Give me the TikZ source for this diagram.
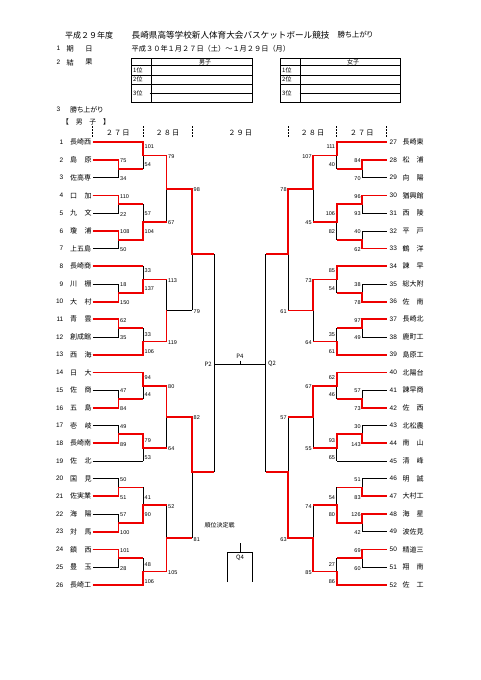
\documentclass[tikz,border=0pt]{standalone}
\usepackage{fontspec}
\setmainfont{Noto Sans CJK JP}
\newfontfamily\pfont{Noto Sans CJK JP}[RawFeature=+palt]
\newfontfamily\numfont{Liberation Sans}
\definecolor{mred}{RGB}{238,0,0}
\tikzset{
  bl/.style={black, line width=0.6pt},
  rd/.style={mred, line width=1.8pt, line join=miter, line cap=butt},
  tb/.style={black, line width=0.7pt},
  sc/.style={font=\numfont\fontsize{5.5}{6}\selectfont, inner sep=0pt},
  tnum/.style={font=\numfont\fontsize{6.5}{7}\selectfont, inner sep=0pt},
  tname/.style={font=\fontsize{7}{8}\selectfont, inner sep=0pt, anchor=west},
  hd/.style={font=\fontsize{7.2}{8}\selectfont, inner sep=0pt},
  sm/.style={font=\fontsize{6}{7}\selectfont, inner sep=0pt},
}
\newcommand\brk[6]{%
 \foreach \r in {1,8,13,14,19,26} \draw[bl] (#1,{142.3+17.7*(\r-1)}) -- (#3,{142.3+17.7*(\r-1)});
 \foreach \r in {2,4,6,9,11,15,17,20,22,24} {
   \draw[bl] (#1,{142.3+17.7*(\r-1)}) -- (#2,{142.3+17.7*(\r-1)}) -- (#2,{142.3+17.7*\r}) -- (#1,{142.3+17.7*\r});
   \draw[bl] (#2,{142.3+17.7*(\r-1)+8.85}) -- (#3,{142.3+17.7*(\r-1)+8.85});
 }
 \draw[bl] (#3,142.3) -- (#3,168.85);
 \draw[bl] (#3,204.25) -- (#3,239.65);
 \draw[bl] (#3,266.2) -- (#3,292.75);
 \draw[bl] (#3,328.15) -- (#3,354.7);
 \draw[bl] (#3,372.4) -- (#3,398.95);
 \draw[bl] (#3,434.35) -- (#3,460.9);
 \draw[bl] (#3,487.45) -- (#3,522.85);
 \draw[bl] (#3,558.25) -- (#3,584.8);
 \foreach \v in {155.58,221.95,279.48,341.43,385.68,447.63,505.15,571.53} \draw[bl] (#3,\v) -- (#4,\v);
 \draw[bl] (#4,155.58) -- (#4,221.95);
 \draw[bl] (#4,279.48) -- (#4,341.43);
 \draw[bl] (#4,385.68) -- (#4,447.63);
 \draw[bl] (#4,505.15) -- (#4,571.53);
 \foreach \v in {188.76,310.45,416.65,538.34} \draw[bl] (#4,\v) -- (#5,\v);
 \draw[bl] (#5,188.76) -- (#5,310.45);
 \draw[bl] (#5,416.65) -- (#5,538.34);
 \draw[bl] (#5,254) -- (#6,254);
 \draw[bl] (#5,472) -- (#6,472);
 \draw[bl] (#6,254) -- (#6,472);
}
\begin{document}
\begin{tikzpicture}[x=1pt,y=-1pt]
\fill[white] (0,0) rectangle (481,680);
\useasboundingbox (0,0) rectangle (481,680);

% ---------- header ----------
\node[font=\fontsize{8}{9}\selectfont, inner sep=0pt, anchor=west] (yr) at (65,35) {平成２９年度};
\node[font=\fontsize{8.6}{9}\selectfont, inner sep=0pt, anchor=west] (ttl) at (131.5,35) {長崎県高等学校新人体育大会バスケットボール競技};
\node[font=\pfont\fontsize{7.5}{9}\selectfont, inner sep=0pt, anchor=west] (ttl2) at (337.5,35) {勝ち上がり};
\node[tnum] (h1) at (58.5,48.5) {1};
\node[hd] (h1a) at (70.3,48.5) {期};
\node[hd] (h1b) at (89,48.5) {日};
\node[hd, anchor=west] (date) at (131.5,48.5) {平成３０年１月２７日（土）～１月２９日（月）};
\node[tnum] (h2) at (58.5,62.3) {2};
\node[hd] (h2a) at (70.3,62.3) {結};
\node[hd] (h2b) at (89,62.3) {果};
\node[tnum] (h3) at (58.5,109.5) {3};
\node[font=\pfont\fontsize{7}{8}\selectfont, inner sep=0pt, anchor=west] (h3a) at (70,109.5) {勝ち上がり};
\node[font=\fontsize{6.8}{8}\selectfont, inner sep=0pt, anchor=west] (boys) at (62,121.5) {【　男　子　】};

% ---------- result tables ----------
\draw[tb] (131,58.5) rectangle (252.5,102);
\draw[tb] (151,58.5) -- (151,102);
\draw[tb] (131,65.5) -- (252.5,65.5);
\draw[tb] (131,75) -- (252.5,75);
\draw[tb] (131,84) -- (252.5,84);
\draw[tb] (149.5,93.5) -- (252.5,93.5);
\node[sm] (tbm) at (205,62) {男子};
\node[sm, anchor=west] (tb1) at (133,70.3) {1位};
\node[sm, anchor=west] (tb2) at (133,79.5) {2位};
\node[sm, anchor=west] (tb3) at (133,93) {3位};
\draw[tb] (280,58.5) rectangle (400,102);
\draw[tb] (300.7,58.5) -- (300.7,102);
\draw[tb] (280,65.5) -- (400,65.5);
\draw[tb] (280,75) -- (400,75);
\draw[tb] (280,84) -- (400,84);
\draw[tb] (299.5,93.5) -- (400,93.5);
\node[sm] (tgf) at (353,62) {女子};
\node[sm, anchor=west] (tg1) at (282,70.3) {1位};
\node[sm, anchor=west] (tg2) at (282,79.5) {2位};
\node[sm, anchor=west] (tg3) at (282,93) {3位};

% ---------- day headers ----------
\foreach \x in {92.5,143,192,288.3,336.7,386.7} \draw[bl, dash pattern=on 1.6pt off 1.4pt] (\x,126) -- (\x,137.5);
\node[hd] (d1) at (117.7,132.5) {２\hspace{1pt}７\hspace{1pt}日};
\node[hd] (d2) at (167.5,132.5) {２\hspace{1pt}８\hspace{1pt}日};
\node[hd] (d3) at (240.2,132.5) {２\hspace{1pt}９\hspace{1pt}日};
\node[hd] (d4) at (312.5,132.5) {２\hspace{1pt}８\hspace{1pt}日};
\node[hd] (d5) at (361.7,132.5) {２\hspace{1pt}７\hspace{1pt}日};

% ---------- bracket skeleton ----------
\brk{92.5}{118.5}{143}{166.5}{192}{214.3}
\brk{386.7}{362.3}{336.7}{313.3}{288.3}{265.7}
\draw[bl] (214.3,364) -- (265.7,364);
\draw[bl] (240,360.5) -- (240,364);
\node[sm] (p4) at (240,356) {P4};
\node[sm, anchor=east] (p2) at (212,364) {P2};
\node[sm, anchor=west] (q2) at (268,364) {Q2};
\node[sm] (jk) at (219.5,525.5) {順位決定戦};
\draw[bl] (227.3,582) -- (227.3,552.7) -- (252.3,552.7) -- (252.3,582);
\draw[bl] (240,543.3) -- (240,552.7);
\node[sm] (q4) at (240,557.5) {Q4};

% ---------- red winner paths, left ----------
\draw[rd] (92.5,142.3) -- (143,142.3) -- (143,155.58) -- (166.5,155.58) -- (166.5,188.76) -- (192,188.76) -- (192,254) -- (214.3,254);
\draw[rd] (92.5,160) -- (118.5,160) -- (118.5,168.85) -- (143,168.85);
\draw[rd] (92.5,195.4) -- (118.5,195.4) -- (118.5,204.25) -- (143,204.25);
\draw[rd] (92.5,230.8) -- (118.5,230.8) -- (118.5,239.65) -- (143,239.65) -- (143,221.95) -- (166.5,221.95);
\draw[rd] (92.5,266.2) -- (143,266.2);
\draw[rd] (92.5,301.6) -- (118.5,301.6) -- (118.5,292.75) -- (143,292.75) -- (143,279.48) -- (166.5,279.48);
\draw[rd] (92.5,319.3) -- (118.5,319.3) -- (118.5,328.15) -- (143,328.15);
\draw[rd] (92.5,354.7) -- (143,354.7) -- (143,341.43) -- (166.5,341.43) -- (166.5,310.45);
\draw[rd] (92.5,372.4) -- (143,372.4) -- (143,385.68) -- (166.5,385.68) -- (166.5,416.65) -- (192,416.65) -- (192,472) -- (214.3,472);
\draw[rd] (92.5,407.8) -- (118.5,407.8) -- (118.5,398.95) -- (143,398.95);
\draw[rd] (92.5,443.2) -- (118.5,443.2) -- (118.5,434.35) -- (143,434.35) -- (143,447.63) -- (166.5,447.63);
\draw[rd] (92.5,496.3) -- (118.5,496.3) -- (118.5,487.45) -- (143,487.45);
\draw[rd] (92.5,531.7) -- (118.5,531.7) -- (118.5,522.85) -- (143,522.85) -- (143,505.15) -- (166.5,505.15);
\draw[rd] (92.5,549.4) -- (118.5,549.4) -- (118.5,558.25) -- (143,558.25);
\draw[rd] (92.5,584.8) -- (143,584.8) -- (143,571.53) -- (166.5,571.53) -- (166.5,538.34) -- (192,538.34);

% ---------- red winner paths, right ----------
\draw[rd] (386.7,142.3) -- (336.7,142.3) -- (336.7,155.58) -- (313.3,155.58) -- (313.3,188.76) -- (288.3,188.76) -- (288.3,254) -- (265.7,254);
\draw[rd] (386.7,160) -- (362.3,160) -- (362.3,168.85) -- (336.7,168.85);
\draw[rd] (386.7,195.4) -- (362.3,195.4) -- (362.3,204.25) -- (336.7,204.25) -- (336.7,221.95) -- (313.3,221.95);
\draw[rd] (386.7,248.5) -- (362.3,248.5) -- (362.3,239.65) -- (336.7,239.65);
\draw[rd] (386.7,266.2) -- (336.7,266.2) -- (336.7,279.48) -- (313.3,279.48) -- (313.3,310.45) -- (288.3,310.45);
\draw[rd] (386.7,301.6) -- (362.3,301.6) -- (362.3,292.75) -- (336.7,292.75);
\draw[rd] (386.7,319.3) -- (362.3,319.3) -- (362.3,328.15) -- (336.7,328.15);
\draw[rd] (386.7,354.7) -- (336.7,354.7) -- (336.7,341.43) -- (313.3,341.43);
\draw[rd] (386.7,372.4) -- (336.7,372.4) -- (336.7,385.68) -- (313.3,385.68) -- (313.3,416.65) -- (288.3,416.65);
\draw[rd] (386.7,407.8) -- (362.3,407.8) -- (362.3,398.95) -- (336.7,398.95);
\draw[rd] (386.7,443.2) -- (362.3,443.2) -- (362.3,434.35) -- (336.7,434.35) -- (336.7,447.63) -- (313.3,447.63);
\draw[rd] (386.7,496.3) -- (362.3,496.3) -- (362.3,487.45) -- (336.7,487.45);
\draw[rd] (386.7,514) -- (362.3,514) -- (362.3,522.85) -- (336.7,522.85) -- (336.7,505.15) -- (313.3,505.15);
\draw[rd] (386.7,549.4) -- (362.3,549.4) -- (362.3,558.25) -- (336.7,558.25);
\draw[rd] (386.7,584.8) -- (336.7,584.8) -- (336.7,571.53) -- (313.3,571.53) -- (313.3,538.34) -- (288.3,538.34) -- (288.3,472) -- (265.7,472);

% ---------- team labels ----------
\foreach \i in {1,...,26} \node[tnum, anchor=east] (lno\i) at (63.5,{142.3+17.7*(\i-1)}) {\i};
\foreach \i in {27,...,52} \node[tnum, anchor=west] (rno\i) at (389.5,{142.3+17.7*(\i-27)}) {\i};
\foreach \i/\nm in {1/長崎西,3/佐高専,7/上五島,8/長崎商,12/創成館,18/長崎南,21/佐実業,26/長崎工}
  \node[tname] (lt\i) at (70,{142.3+17.7*(\i-1)}) {\nm};
\foreach \i/\a/\b in {2/島/原,4/口/加,5/九/文,6/瓊/浦,9/川/棚,10/大/村,11/青/雲,13/西/海,14/日/大,15/佐/商,16/五/島,17/壱/岐,19/佐/北,20/国/見,22/海/陽,23/対/馬,24/鎮/西,25/豊/玉}
  \node[tname] (lt\i) at (70,{142.3+17.7*(\i-1)}) {\makebox[21.5pt]{\a\hfill\b}};
\foreach \i/\nm in {27/長崎東,30/猶興館,35/総大附,37/長崎北,38/鹿町工,39/島原工,40/北陽台,41/諫早商,43/北松農,47/大村工,49/波佐見,50/精道三}
  \node[tname] (rt\i) at (402.5,{142.3+17.7*(\i-27)}) {\nm};
\foreach \i/\a/\b in {28/松/浦,29/向/陽,31/西/陵,32/平/戸,33/鶴/洋,34/諫/早,36/佐/南,42/佐/西,44/南/山,45/清/峰,46/明/誠,48/海/星,51/翔/南,52/佐/工}
  \node[tname] (rt\i) at (402.5,{142.3+17.7*(\i-27)}) {\makebox[21pt]{\a\hfill\b}};

% ---------- scores ----------
\foreach \y/\t [count=\k] in {161/75,178.7/34,196.4/110,214.1/22,231.8/108,249.5/50,284.9/18,302.6/150,320.3/62,338/35,391.1/47,408.8/84,426.5/49,444.2/89,479.6/50,497.3/51,515/57,532.7/100,550.4/101,568.1/28}
  \node[sc, anchor=west] (la\k) at (120,\y) {\t};
\foreach \y/\t [count=\k] in {161/84,178.7/70,196.4/96,214.1/93,231.8/40,249.5/62,284.9/38,302.6/78,320.3/97,338/49,391.1/57,408.8/73,426.5/30,444.2/143,479.6/51,497.3/83,515/126,532.7/42,550.4/69,568.1/60}
  \node[sc, anchor=east] (ra\k) at (360.8,\y) {\t};
\foreach \y/\t [count=\k] in {147.1/101,164.8/54,214.1/57,231.8/104,271/33,288.7/137,334.2/33,351.9/106,377.2/94,394.9/44,440.4/79,458.1/53,497.3/41,515/90,564.3/48,582/106}
  \node[sc, anchor=west] (lb\k) at (144.5,\y) {\t};
\foreach \y/\t [count=\k] in {147.1/111,164.8/40,214.1/106,231.8/82,271/85,288.7/54,334.2/35,351.9/61,377.2/62,394.9/46,440.4/93,458.1/65,497.3/54,515/80,564.3/27,582/86}
  \node[sc, anchor=east] (rb\k) at (335.2,\y) {\t};
\foreach \y/\t [count=\k] in {156.6/79,223/67,280.5/113,342.4/119,386.7/80,448.6/64,506.2/52,572.5/105}
  \node[sc, anchor=west] (lc\k) at (168,\y) {\t};
\foreach \y/\t [count=\k] in {156.6/107,223/45,280.5/73,342.4/64,386.7/67,448.6/55,506.2/74,572.5/85}
  \node[sc, anchor=east] (rc\k) at (311.8,\y) {\t};
\foreach \y/\t [count=\k] in {189.8/98,311.5/79,417.7/82,539.3/81}
  \node[sc, anchor=west] (ld\k) at (193.5,\y) {\t};
\foreach \y/\t [count=\k] in {189.8/78,311.5/61,417.7/57,539.3/63}
  \node[sc, anchor=east] (rd\k) at (286.8,\y) {\t};
\end{tikzpicture}
\end{document}
